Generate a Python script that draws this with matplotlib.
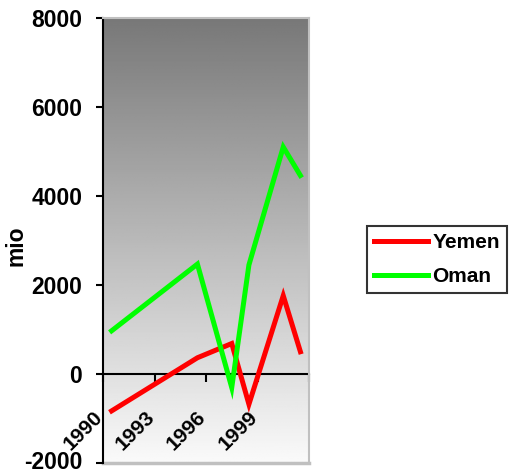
import numpy as np
import matplotlib
matplotlib.use("Agg")
import matplotlib.pyplot as plt
from matplotlib.transforms import offset_copy, ScaledTranslation

plt.rcParams["font.family"] = ["Liberation Sans", "DejaVu Sans"]
plt.rcParams["font.weight"] = "bold"

# %% data (None = no point drawn)
years = list(range(1990, 2002))
yemen = [-830, None, None, None, None, 365, None, 685, -680, None, 1760, 500]
oman = [970, None, None, None, None, 2470, None, -305, 2450, None, 5100, 4460]
label_years = ["1990", "1993", "1996", "1999"]
yticks = [-2000, 0, 2000, 4000, 6000, 8000]

FS = 16.5

# %% figure
W, H = 512, 475
fig = plt.figure(figsize=(W / 100, H / 100), dpi=100)
ax = fig.add_axes([103 / W, 1 - 463 / H, 206 / W, 445 / H])
ax.set_xlim(0, len(years))
ax.set_ylim(-2000, 8000)

# gray gradient background
grad = np.linspace(120, 250, 256).reshape(-1, 1) / 255.0
ax.imshow(grad, cmap="gray", vmin=0, vmax=1, aspect="auto",
          extent=[0, len(years), -2000, 8000], zorder=0, origin="upper")


def points(vals):
    xs = [i + 0.5 for i, v in enumerate(vals) if v is not None]
    ys = [v for v in vals if v is not None]
    return xs, ys


ax.plot(*points(yemen), color="#ff0000", lw=3.6, label="Yemen", zorder=3,
        solid_joinstyle="miter")
ax.plot(*points(oman), color="#00ff00", lw=3.6, label="Oman", zorder=3,
        solid_joinstyle="miter")

# axes frame
for s in ["top", "right"]:
    ax.spines[s].set_color("#c0c0c0")
    ax.spines[s].set_linewidth(1.5)
ax.spines["left"].set_color("black")
ax.spines["left"].set_linewidth(1.5)
ax.spines["bottom"].set_position(("data", 0))
ax.spines["bottom"].set_color("black")
ax.spines["bottom"].set_linewidth(1.5)
ax.spines["bottom"].set_zorder(2)
ax.plot([0, 1], [0, 0], transform=ax.transAxes, color="#c0c0c0", lw=2.5,
        clip_on=False, zorder=1)

ax.set_yticks(yticks)
ax.set_yticklabels([str(t) for t in yticks], fontsize=FS, fontweight="bold")
ax.tick_params(axis="y", direction="out", length=5, width=1.5, pad=10)
# lowest label sits right on the figure edge, lift it a little
for t in ax.get_yticklabels():
    if t.get_text() == "-2000":
        t.set_transform(t.get_transform()
                        + ScaledTranslation(0, 3 / 100, fig.dpi_scale_trans))

ax.set_xticks(range(0, len(years) + 1, 3))
ax.set_xticklabels([])
ax.tick_params(axis="x", direction="out", length=6, width=1.5)

for lab in label_years:
    pos = years.index(int(lab))
    tr = offset_copy(ax.transData, fig=fig, x=-3, y=-40, units="dots")
    ax.text(pos, 0, lab, transform=tr, rotation=45, rotation_mode="anchor",
            ha="right", va="center", fontsize=15, fontweight="bold")

fig.text(16 / W, 1 - 246 / H, "mio", rotation=90, ha="center", va="center",
         fontsize=FS, fontweight="bold")

leg = ax.legend(loc="center left", bbox_to_anchor=(367 / W, 1 - 259.5 / H),
                bbox_transform=fig.transFigure, fontsize=15, frameon=True,
                fancybox=False, edgecolor="black", handlelength=2.6,
                handletextpad=0.2, borderpad=0.33, labelspacing=0.72,
                borderaxespad=0)
leg.get_frame().set_linewidth(1.5)
for t in leg.get_texts():
    t.set_fontweight("bold")

fig.savefig("out.png", dpi=100)
